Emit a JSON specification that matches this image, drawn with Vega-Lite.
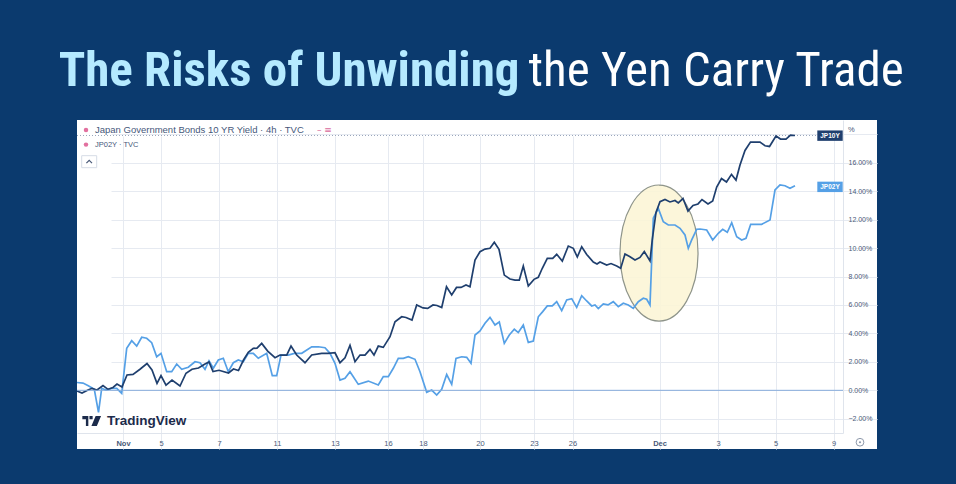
{
  "$schema": "https://vega.github.io/schema/vega-lite/v6.json",
  "description": "The Risks of Unwinding the Yen Carry Trade: Japan 10Y (JP10Y) and 2Y (JP02Y) government bond yields, November to December, 4h bars on a session axis.",
  "width": 800,
  "height": 329,
  "autosize": {"type": "none"},
  "padding": {"left": 77, "top": 120, "right": 79, "bottom": 35},
  "background": "#0b3a6e",
  "view": {"fill": "#ffffff", "stroke": null},
  "config": {"font": "Liberation Sans"},
  "datasets": {
    "one": [{"id": "annotation"}],
    "last": [{"series": "JP10Y", "v": 17.9}, {"series": "JP02Y", "v": 14.3}],
    "yields": [
      {"series":"JP02Y","t":0,"v":0.55},{"series":"JP02Y","t":6,"v":0.51},{"series":"JP02Y","t":11.3,"v":0.32},{"series":"JP02Y","t":17.3,"v":0.07},{"series":"JP02Y","t":21.5,"v":-1.55},{"series":"JP02Y","t":24.7,"v":0.14},{"series":"JP02Y","t":29,"v":0.02},{"series":"JP02Y","t":34.7,"v":0.14},{"series":"JP02Y","t":39.7,"v":0.14},{"series":"JP02Y","t":44.7,"v":-0.21},
      {"series":"JP02Y","t":49.7,"v":2.95},{"series":"JP02Y","t":54.7,"v":3.49},{"series":"JP02Y","t":59.7,"v":3.11},{"series":"JP02Y","t":64.7,"v":3.73},{"series":"JP02Y","t":69.7,"v":3.66},{"series":"JP02Y","t":74.7,"v":3.35},{"series":"JP02Y","t":79.7,"v":2.36},{"series":"JP02Y","t":84,"v":2.6},{"series":"JP02Y","t":89.7,"v":1.31},{"series":"JP02Y","t":94.7,"v":1.31},
      {"series":"JP02Y","t":99.7,"v":1.85},{"series":"JP02Y","t":104.7,"v":1.48},{"series":"JP02Y","t":111.3,"v":1.62},{"series":"JP02Y","t":118,"v":2.01},{"series":"JP02Y","t":123,"v":1.94},{"series":"JP02Y","t":128,"v":1.48},{"series":"JP02Y","t":132,"v":2.08},{"series":"JP02Y","t":136.3,"v":1.55},{"series":"JP02Y","t":141.3,"v":2.13},{"series":"JP02Y","t":146.3,"v":2.25},
      {"series":"JP02Y","t":151.3,"v":1.31},{"series":"JP02Y","t":156.3,"v":1.94},{"series":"JP02Y","t":161.3,"v":2.13},{"series":"JP02Y","t":166.3,"v":2.01},{"series":"JP02Y","t":171.3,"v":2.6},{"series":"JP02Y","t":176.3,"v":2.6},{"series":"JP02Y","t":181.3,"v":2.25},{"series":"JP02Y","t":189.7,"v":2.6},{"series":"JP02Y","t":195.3,"v":1.03},{"series":"JP02Y","t":199.7,"v":1.03},
      {"series":"JP02Y","t":204,"v":2.48},{"series":"JP02Y","t":211.3,"v":2.48},{"series":"JP02Y","t":217.3,"v":2.6},{"series":"JP02Y","t":224.7,"v":2.6},{"series":"JP02Y","t":234.7,"v":3.06},{"series":"JP02Y","t":241.3,"v":3.06},{"series":"JP02Y","t":248,"v":2.99},{"series":"JP02Y","t":253,"v":2.6},{"series":"JP02Y","t":258,"v":1.9},{"series":"JP02Y","t":263,"v":0.72},
      {"series":"JP02Y","t":268,"v":0.84},{"series":"JP02Y","t":273,"v":1.31},{"series":"JP02Y","t":276.3,"v":0.96},{"series":"JP02Y","t":281.3,"v":0.42},{"series":"JP02Y","t":291.3,"v":0.65},{"series":"JP02Y","t":301.3,"v":0.37},{"series":"JP02Y","t":306.3,"v":0.96},{"series":"JP02Y","t":311.3,"v":0.96},{"series":"JP02Y","t":316.3,"v":1.55},{"series":"JP02Y","t":321.3,"v":2.25},
      {"series":"JP02Y","t":326.3,"v":2.25},{"series":"JP02Y","t":331.3,"v":2.36},{"series":"JP02Y","t":338,"v":2.18},{"series":"JP02Y","t":343,"v":1.31},{"series":"JP02Y","t":349.7,"v":-0.14},{"series":"JP02Y","t":354.7,"v":0.02},{"series":"JP02Y","t":359.7,"v":-0.33},{"series":"JP02Y","t":364.7,"v":0.07},{"series":"JP02Y","t":369.7,"v":1.11},{"series":"JP02Y","t":374.7,"v":0.42},
      {"series":"JP02Y","t":379,"v":2.25},{"series":"JP02Y","t":384.7,"v":2.36},{"series":"JP02Y","t":389.7,"v":2.32},{"series":"JP02Y","t":394,"v":1.9},{"series":"JP02Y","t":398,"v":3.89},{"series":"JP02Y","t":403,"v":4.17},{"series":"JP02Y","t":408,"v":4.71},{"series":"JP02Y","t":413,"v":5.13},{"series":"JP02Y","t":418,"v":4.59},{"series":"JP02Y","t":422.3,"v":4.8},
      {"series":"JP02Y","t":427.3,"v":3.3},{"series":"JP02Y","t":432.3,"v":3.89},{"series":"JP02Y","t":437.3,"v":4.29},{"series":"JP02Y","t":441.3,"v":4.06},{"series":"JP02Y","t":446.3,"v":4.59},{"series":"JP02Y","t":451.3,"v":3.37},{"series":"JP02Y","t":456.3,"v":3.47},{"series":"JP02Y","t":461.3,"v":5.17},{"series":"JP02Y","t":465.7,"v":5.53},{"series":"JP02Y","t":470.3,"v":5.93},
      {"series":"JP02Y","t":475.3,"v":5.93},{"series":"JP02Y","t":479.7,"v":6.23},{"series":"JP02Y","t":484.7,"v":5.6},{"series":"JP02Y","t":489.7,"v":6.35},{"series":"JP02Y","t":494.7,"v":6.44},{"series":"JP02Y","t":499.7,"v":5.83},{"series":"JP02Y","t":504.7,"v":6.65},{"series":"JP02Y","t":509.7,"v":6.28},{"series":"JP02Y","t":514.7,"v":5.93},{"series":"JP02Y","t":518,"v":6.0},
      {"series":"JP02Y","t":521.3,"v":5.75},{"series":"JP02Y","t":526.3,"v":6.07},{"series":"JP02Y","t":531,"v":6.0},{"series":"JP02Y","t":536.3,"v":6.23},{"series":"JP02Y","t":541.3,"v":5.88},{"series":"JP02Y","t":546.3,"v":6.12},{"series":"JP02Y","t":551.3,"v":6.0},{"series":"JP02Y","t":556.3,"v":5.76},{"series":"JP02Y","t":561.3,"v":6.23},{"series":"JP02Y","t":566.3,"v":6.47},
      {"series":"JP02Y","t":569.7,"v":6.4},{"series":"JP02Y","t":573,"v":6.0},{"series":"JP02Y","t":576.3,"v":12.09},{"series":"JP02Y","t":581.3,"v":12.79},{"series":"JP02Y","t":586.3,"v":11.85},{"series":"JP02Y","t":591.3,"v":11.62},{"series":"JP02Y","t":598,"v":11.62},{"series":"JP02Y","t":603,"v":11.39},{"series":"JP02Y","t":608,"v":10.92},{"series":"JP02Y","t":611.3,"v":9.98},
      {"series":"JP02Y","t":614.7,"v":10.57},{"series":"JP02Y","t":619.7,"v":11.32},{"series":"JP02Y","t":623,"v":11.34},{"series":"JP02Y","t":629.7,"v":11.27},{"series":"JP02Y","t":635.7,"v":10.57},{"series":"JP02Y","t":641.3,"v":11.04},{"series":"JP02Y","t":645.7,"v":11.32},{"series":"JP02Y","t":650.3,"v":11.11},{"series":"JP02Y","t":654.7,"v":11.78},{"series":"JP02Y","t":659.7,"v":10.8},
      {"series":"JP02Y","t":664.7,"v":10.57},{"series":"JP02Y","t":669,"v":10.68},{"series":"JP02Y","t":673.7,"v":11.67},{"series":"JP02Y","t":679,"v":11.67},{"series":"JP02Y","t":684.7,"v":11.67},{"series":"JP02Y","t":693,"v":11.97},{"series":"JP02Y","t":698,"v":14.08},{"series":"JP02Y","t":703,"v":14.43},{"series":"JP02Y","t":708,"v":14.38},{"series":"JP02Y","t":713,"v":14.2},{"series":"JP02Y","t":718,"v":14.38},
      {"series":"JP10Y","t":0,"v":-0.05},{"series":"JP10Y","t":5,"v":-0.19},{"series":"JP10Y","t":11,"v":0.02},{"series":"JP10Y","t":15,"v":0.14},{"series":"JP10Y","t":20,"v":0.02},{"series":"JP10Y","t":26,"v":0.34},{"series":"JP10Y","t":31,"v":0.07},{"series":"JP10Y","t":36,"v":0.2},{"series":"JP10Y","t":40,"v":0.44},{"series":"JP10Y","t":45,"v":0.23},
      {"series":"JP10Y","t":50,"v":1.08},{"series":"JP10Y","t":56,"v":1.12},{"series":"JP10Y","t":63,"v":1.48},{"series":"JP10Y","t":70,"v":1.88},{"series":"JP10Y","t":75,"v":1.43},{"series":"JP10Y","t":80,"v":0.49},{"series":"JP10Y","t":84,"v":1.04},{"series":"JP10Y","t":89,"v":0.37},{"series":"JP10Y","t":95,"v":0.72},{"series":"JP10Y","t":103,"v":0.3},
      {"series":"JP10Y","t":109,"v":1.2},{"series":"JP10Y","t":115,"v":1.48},{"series":"JP10Y","t":121.5,"v":1.57},{"series":"JP10Y","t":128,"v":1.85},{"series":"JP10Y","t":132,"v":1.99},{"series":"JP10Y","t":136,"v":1.32},{"series":"JP10Y","t":142,"v":1.41},{"series":"JP10Y","t":151.5,"v":1.22},{"series":"JP10Y","t":156.5,"v":1.5},{"series":"JP10Y","t":161.5,"v":1.39},
      {"series":"JP10Y","t":166.5,"v":2.13},{"series":"JP10Y","t":171.3,"v":2.67},{"series":"JP10Y","t":176.3,"v":2.95},{"series":"JP10Y","t":180,"v":2.97},{"series":"JP10Y","t":184.7,"v":3.3},{"series":"JP10Y","t":190.7,"v":2.76},{"series":"JP10Y","t":198,"v":2.29},{"series":"JP10Y","t":203,"v":2.48},{"series":"JP10Y","t":209.7,"v":2.48},{"series":"JP10Y","t":214,"v":3.11},
      {"series":"JP10Y","t":219.7,"v":2.48},{"series":"JP10Y","t":228,"v":1.94},{"series":"JP10Y","t":234.7,"v":2.48},{"series":"JP10Y","t":244.7,"v":2.6},{"series":"JP10Y","t":251.3,"v":2.6},{"series":"JP10Y","t":258,"v":2.64},{"series":"JP10Y","t":263,"v":1.94},{"series":"JP10Y","t":268,"v":2.29},{"series":"JP10Y","t":273,"v":3.16},{"series":"JP10Y","t":278,"v":2.01},
      {"series":"JP10Y","t":283,"v":2.48},{"series":"JP10Y","t":288,"v":2.48},{"series":"JP10Y","t":293,"v":2.88},{"series":"JP10Y","t":297,"v":2.48},{"series":"JP10Y","t":301.3,"v":3.11},{"series":"JP10Y","t":306.3,"v":3.02},{"series":"JP10Y","t":313,"v":3.77},{"series":"JP10Y","t":318,"v":4.82},{"series":"JP10Y","t":324.7,"v":5.17},{"series":"JP10Y","t":329,"v":5.12},
      {"series":"JP10Y","t":335,"v":4.94},{"series":"JP10Y","t":339.7,"v":6.0},{"series":"JP10Y","t":346,"v":5.79},{"series":"JP10Y","t":350.7,"v":5.76},{"series":"JP10Y","t":356,"v":6.0},{"series":"JP10Y","t":360,"v":5.96},{"series":"JP10Y","t":364.7,"v":5.82},{"series":"JP10Y","t":369.5,"v":7.28},{"series":"JP10Y","t":374.7,"v":6.7},{"series":"JP10Y","t":379.5,"v":7.23},
      {"series":"JP10Y","t":384,"v":7.23},{"series":"JP10Y","t":389,"v":7.4},{"series":"JP10Y","t":393,"v":7.28},{"series":"JP10Y","t":398,"v":9.16},{"series":"JP10Y","t":403,"v":9.74},{"series":"JP10Y","t":408,"v":9.93},{"series":"JP10Y","t":413,"v":9.98},{"series":"JP10Y","t":417.3,"v":10.4},{"series":"JP10Y","t":422,"v":9.91},{"series":"JP10Y","t":427.3,"v":8.1},
      {"series":"JP10Y","t":433,"v":7.82},{"series":"JP10Y","t":438,"v":7.75},{"series":"JP10Y","t":442.3,"v":7.75},{"series":"JP10Y","t":446.3,"v":8.74},{"series":"JP10Y","t":451.3,"v":7.33},{"series":"JP10Y","t":457,"v":7.8},{"series":"JP10Y","t":461.3,"v":7.94},{"series":"JP10Y","t":465.3,"v":8.58},{"series":"JP10Y","t":470.3,"v":9.28},{"series":"JP10Y","t":475.7,"v":9.28},
      {"series":"JP10Y","t":479.7,"v":9.56},{"series":"JP10Y","t":485.3,"v":9.09},{"series":"JP10Y","t":491.3,"v":10.14},{"series":"JP10Y","t":496.3,"v":9.98},{"series":"JP10Y","t":500.3,"v":9.37},{"series":"JP10Y","t":504.7,"v":10.09},{"series":"JP10Y","t":509.7,"v":9.55},{"series":"JP10Y","t":516.3,"v":9.02},{"series":"JP10Y","t":520,"v":8.88},{"series":"JP10Y","t":523,"v":9.02},
      {"series":"JP10Y","t":529.7,"v":8.81},{"series":"JP10Y","t":534,"v":8.91},{"series":"JP10Y","t":539.7,"v":8.74},{"series":"JP10Y","t":543.7,"v":8.58},{"series":"JP10Y","t":548,"v":9.58},{"series":"JP10Y","t":553,"v":9.39},{"series":"JP10Y","t":558,"v":9.16},{"series":"JP10Y","t":563,"v":9.34},{"series":"JP10Y","t":567.3,"v":9.76},{"series":"JP10Y","t":573,"v":9.09},
      {"series":"JP10Y","t":575.3,"v":10.6},{"series":"JP10Y","t":579,"v":12.5},{"series":"JP10Y","t":583,"v":13.26},{"series":"JP10Y","t":588,"v":13.41},{"series":"JP10Y","t":593,"v":13.24},{"series":"JP10Y","t":598,"v":13.34},{"series":"JP10Y","t":601.3,"v":13.17},{"series":"JP10Y","t":606,"v":13.48},{"series":"JP10Y","t":611,"v":12.6},{"series":"JP10Y","t":616,"v":12.99},
      {"series":"JP10Y","t":621,"v":13.1},{"series":"JP10Y","t":625,"v":13.41},{"series":"JP10Y","t":631,"v":13.1},{"series":"JP10Y","t":635.7,"v":13.31},{"series":"JP10Y","t":639.7,"v":14.29},{"series":"JP10Y","t":644.5,"v":14.89},{"series":"JP10Y","t":649.5,"v":14.64},{"series":"JP10Y","t":654.5,"v":15.18},{"series":"JP10Y","t":659,"v":14.78},{"series":"JP10Y","t":663,"v":15.84},
      {"series":"JP10Y","t":668,"v":16.86},{"series":"JP10Y","t":673.5,"v":17.45},{"series":"JP10Y","t":683,"v":17.45},{"series":"JP10Y","t":688,"v":17.19},{"series":"JP10Y","t":692.5,"v":17.14},{"series":"JP10Y","t":699,"v":17.88},{"series":"JP10Y","t":703.5,"v":17.66},{"series":"JP10Y","t":709,"v":17.66},{"series":"JP10Y","t":713.5,"v":17.94},{"series":"JP10Y","t":718,"v":17.91}
    ]
  },
  "layer": [
    {
      "data": {"name": "one"},
      "mark": {"type": "point", "shape": "M0,-1C0.317,-1 0.574,-0.552 0.574,0C0.574,0.552 0.317,1 0,1C-0.317,1 -0.574,0.552 -0.574,0C-0.574,-0.552 -0.317,-1 0,-1Z", "size": 18496, "filled": true, "fill": "#fcf5d5", "fillOpacity": 0.88, "stroke": "#8e948a", "strokeWidth": 1.2, "strokeOpacity": 1, "opacity": 1},
      "encoding": {"x": {"datum": 582}, "y": {"datum": 9.65}}
    },
    {
      "data": {"name": "one"},
      "mark": {"type": "rule", "color": "#9aa6bb", "strokeDash": [1, 2], "strokeWidth": 1},
      "encoding": {"x": {"datum": 0}, "x2": {"datum": 741}, "y": {"datum": 17.91}}
    },
    {
      "data": {"name": "yields"},
      "mark": {"type": "line", "strokeWidth": 1.7, "interpolate": "linear"},
      "encoding": {
        "x": {
          "field": "t", "type": "quantitative",
          "scale": {"domain": [0, 766], "range": [0, 766], "nice": false, "zero": false},
          "axis": {
            "orient": "bottom", "offset": -16, "tickCount": 40,
            "values": [46, 84, 142, 200, 258, 311, 346, 403, 457, 495.5, 582.5, 641, 698.5, 756.5],
            "labelExpr": "['Nov','5','7','11','13','16','18','20','23','26','Dec','3','5','9'][indexof([46,84,142,200,258,311,346,403,457,495.5,582.5,641,698.5,756.5], datum.value)]",
            "grid": true, "gridColor": "#e6eaf1", "gridWidth": 1,
            "domain": true, "domainColor": "#dfe4ec", "ticks": false, "tickSize": 0,
            "labelPadding": 6, "labelFontSize": 7.5, "labelColor": "#4a5a78", "labelFont": "Liberation Sans",
            "labelFontWeight": {"condition": {"test": "datum.value == 46 || datum.value == 582.5", "value": "bold"}, "value": "normal"},
            "labelOverlap": false, "labelFlush": false, "labelBound": false,
            "title": "The Risks of Unwinding", "titleX": 442, "titleY": -348, "titleAlign": "right", "titleBaseline": "alphabetic", "titleAngle": 0,
            "titleFont": "Roboto Condensed, Roboto", "titleFontSize": 49, "titleFontWeight": "bold", "titleColor": "#b5eaff", "titleLimit": 2000
          }
        },
        "y": {
          "field": "v", "type": "quantitative",
          "scale": {"domain": [-3, 19], "range": [313, 0], "nice": false, "zero": false},
          "axis": {
            "orient": "right", "offset": -34, "tickCount": 40,
            "values": [-2, 0, 2, 4, 6, 8, 10, 12, 14, 16, 18],
            "labelExpr": "datum.value == 18 ? '' : format(datum.value, '.2f') + '%'",
            "grid": true, "gridColor": "#e6eaf1", "gridWidth": 1,
            "domain": true, "domainColor": "#dfe4ec", "ticks": false, "tickSize": 0,
            "labelPadding": 5, "labelFontSize": 7, "labelColor": "#4a5a78", "labelFont": "Liberation Sans",
            "labelOverlap": false, "labelFlush": false, "labelBound": false,
            "title": "the Yen Carry Trade", "titleX": -315, "titleY": -35, "titleAngle": 0, "titleAlign": "left", "titleBaseline": "alphabetic",
            "titleFont": "Roboto Condensed, Roboto", "titleFontSize": 49, "titleFontWeight": "normal", "titleColor": "#ffffff", "titleLimit": 2000
          }
        },
        "color": {"field": "series", "type": "nominal", "scale": {"domain": ["JP10Y", "JP02Y"], "range": ["#1f3f6e", "#55a0e6"]}, "legend": null}
      }
    },
    {
      "data": {"name": "one"},
      "mark": {"type": "rule", "color": "#86acdb", "strokeWidth": 1},
      "encoding": {"x": {"datum": 0}, "x2": {"datum": 766}, "y": {"datum": 0}}
    },
    {
      "data": {"name": "last"},
      "mark": {"type": "point", "shape": "M-1,-0.41L1,-0.41L1,0.41L-1,0.41Z", "size": 645, "filled": true, "opacity": 1},
      "encoding": {
        "x": {"datum": 753},
        "y": {"field": "v", "type": "quantitative"},
        "color": {"field": "series", "type": "nominal", "legend": null}
      }
    },
    {
      "data": {"name": "last"},
      "mark": {"type": "text", "color": "#ffffff", "fontSize": 6.5, "fontWeight": "bold", "font": "Liberation Sans", "align": "center", "baseline": "middle"},
      "encoding": {"x": {"datum": 753}, "y": {"field": "v", "type": "quantitative"}, "text": {"field": "series"}}
    },
    {
      "data": {"name": "one"},
      "mark": {"type": "point", "shape": "circle", "size": 20, "filled": true, "color": "#e2709f", "opacity": 1},
      "encoding": {"x": {"datum": 9}, "y": {"datum": 18.3}}
    },
    {
      "data": {"name": "one"},
      "mark": {"type": "point", "shape": "circle", "size": 20, "filled": true, "color": "#e2709f", "opacity": 1},
      "encoding": {"x": {"datum": 9}, "y": {"datum": 17.27}}
    },
    {
      "data": {"name": "one"},
      "mark": {"type": "text", "align": "left", "baseline": "middle", "fontSize": 9.5, "color": "#46577a", "font": "Liberation Sans"},
      "encoding": {"x": {"datum": 18}, "y": {"datum": 18.3}, "text": {"value": "Japan Government Bonds 10 YR Yield · 4h · TVC"}}
    },
    {
      "data": {"name": "one"},
      "mark": {"type": "text", "align": "left", "baseline": "middle", "fontSize": 9, "color": "#d9689c", "font": "DejaVu Sans"},
      "encoding": {"x": {"datum": 240}, "y": {"datum": 18.3}, "text": {"value": "– ≡"}}
    },
    {
      "data": {"name": "one"},
      "mark": {"type": "text", "align": "left", "baseline": "middle", "fontSize": 7.5, "color": "#46577a", "font": "Liberation Sans"},
      "encoding": {"x": {"datum": 18}, "y": {"datum": 17.27}, "text": {"value": "JP02Y · TVC"}}
    },
    {
      "data": {"name": "one"},
      "mark": {"type": "point", "shape": "M-1,-0.8L1,-0.8L1,0.8L-1,0.8Z", "size": 225, "filled": false, "fill": "#ffffff", "stroke": "#d6dce6", "strokeWidth": 1, "opacity": 1},
      "encoding": {"x": {"datum": 12.2}, "y": {"datum": 16.07}}
    },
    {
      "data": {"name": "one"},
      "mark": {"type": "point", "shape": "M-0.8,0.4L0,-0.4L0.8,0.4", "size": 49, "filled": false, "fill": null, "stroke": "#4a5a78", "strokeWidth": 1.2, "opacity": 1},
      "encoding": {"x": {"datum": 12.2}, "y": {"datum": 16.07}}
    },
    {
      "data": {"name": "one"},
      "mark": {"type": "text", "align": "left", "baseline": "middle", "fontSize": 7.5, "color": "#4a5a78", "font": "Liberation Sans"},
      "encoding": {"x": {"datum": 771}, "y": {"datum": 18.3}, "text": {"value": "%"}}
    },
    {
      "data": {"name": "one"},
      "mark": {"type": "point", "shape": "M-1,-0.53L-0.36,-0.53L-0.36,0.53L-0.62,0.53L-0.62,-0.2L-1,-0.2Z M-0.24,-0.53L0.1,-0.53L0.1,-0.19L-0.24,-0.19Z M0.42,-0.53L1,-0.53L0.55,0.53L-0.03,0.53Z", "size": 350, "filled": true, "color": "#1c2b4b", "opacity": 1},
      "encoding": {"x": {"datum": 14.7}, "y": {"datum": -2.16}}
    },
    {
      "data": {"name": "one"},
      "mark": {"type": "text", "align": "left", "baseline": "middle", "fontSize": 13.5, "fontWeight": "bold", "color": "#1c2b4b", "font": "Liberation Sans"},
      "encoding": {"x": {"datum": 30}, "y": {"datum": -2.16}, "text": {"value": "TradingView"}}
    },
    {
      "data": {"name": "one"},
      "mark": {"type": "point", "shape": "circle", "size": 60, "filled": false, "stroke": "#8e99ab", "strokeWidth": 1, "opacity": 1},
      "encoding": {"x": {"datum": 783}, "y": {"datum": -3.65}}
    },
    {
      "data": {"name": "one"},
      "mark": {"type": "point", "shape": "circle", "size": 5, "filled": true, "color": "#8e99ab", "opacity": 1},
      "encoding": {"x": {"datum": 783}, "y": {"datum": -3.65}}
    }
  ]
}
